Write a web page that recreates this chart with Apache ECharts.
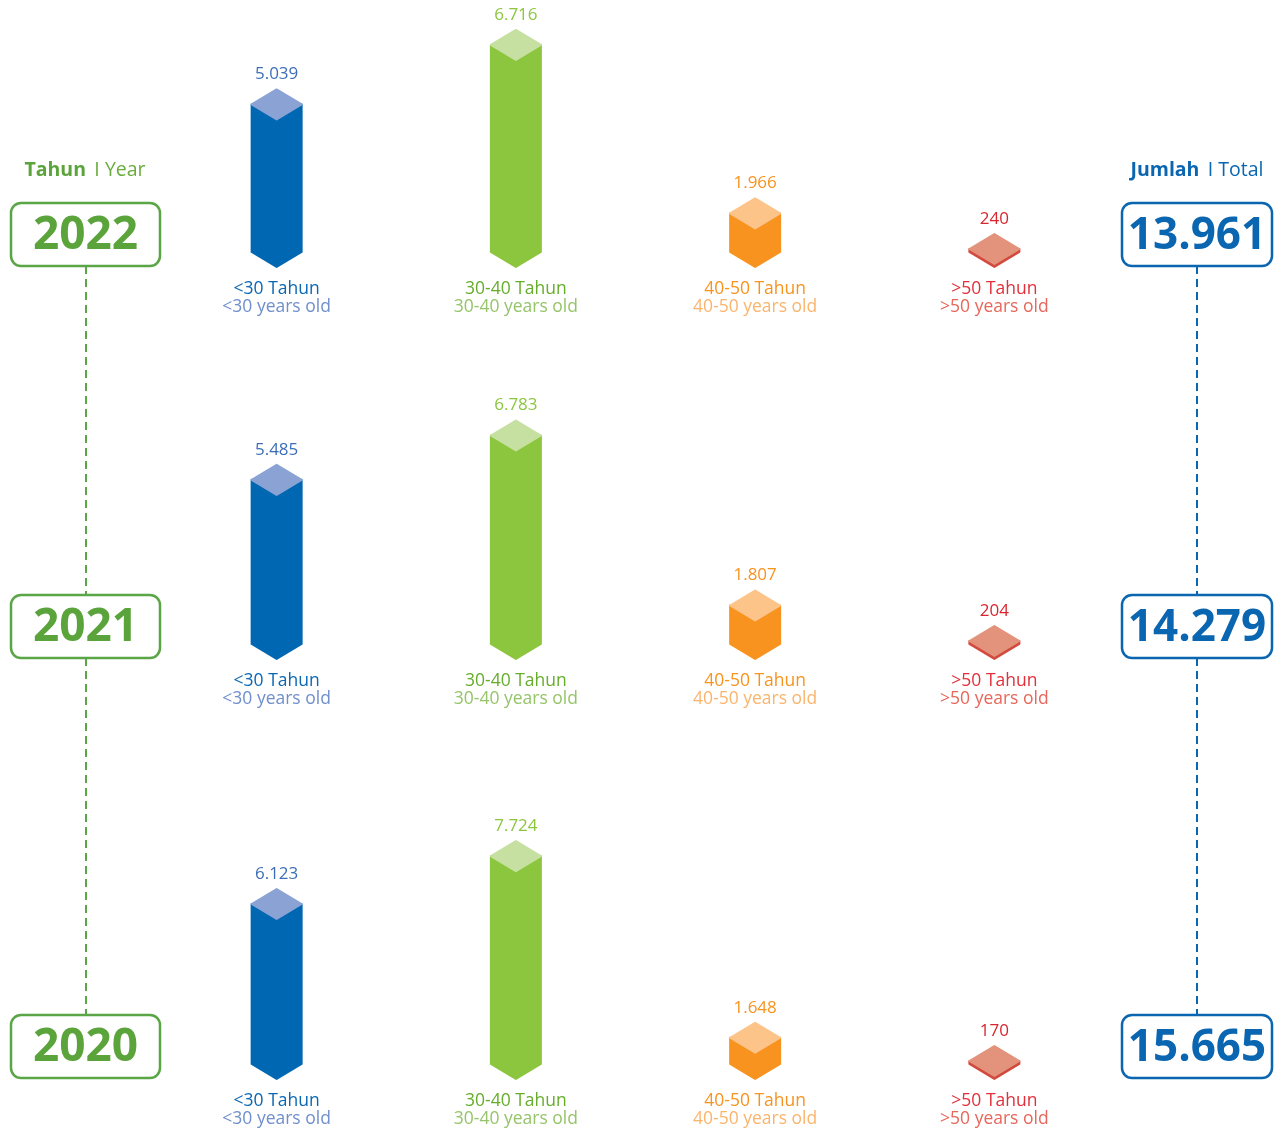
<!DOCTYPE html>
<html>
<head>
<meta charset="utf-8">
<script src="https://cdn.jsdelivr.net/npm/echarts@6/dist/echarts.min.js"></script>
<style>
html,body{margin:0;padding:0;background:#fff;}
#chart{width:1282px;height:1130px;}
</style>
</head>
<body>
<div id="chart"></div>
<script>
// ---- data ----
const categories = ['<30 Tahun', '30-40 Tahun', '40-50 Tahun', '>50 Tahun'];
const categoriesEn = ['<30 years old', '30-40 years old', '40-50 years old', '>50 years old'];
const years = ['2022', '2021', '2020'];
const values2022 = [5039, 6716, 1966, 240];
const values2021 = [5485, 6783, 1807, 204];
const values2020 = [6123, 7724, 1648, 170];
const totals = [13961, 14279, 15665];

const rowValues = [values2022, values2021, values2020];

// ---- styling / layout ----
const bodyColors = ['#0067b2', '#8cc63f', '#f7931e', '#d24a3e'];
const capColors = ['#8aa3d4', '#c5e0a0', '#fdc48a', '#e3927b'];
const valueColors = ['#3d6fb8', '#8cc63f', '#f7931e', '#d7262e'];
const catColors = ['#0b67b2', '#66ad2c', '#f7931e', '#e0303a'];
const enColors = ['#6f8fcd', '#96c46a', '#fbb46c', '#e8665a'];
const rowBase = [267, 659, 1079];
const axisMin = [880, 680, 770];
const axisMax = [7080, 7120, 8130];
const gridH = 220;
const HW = 26, HC = 15;

function fmt(v) { return String(v).replace(/\B(?=(\d{3})+(?!\d))/g, '.'); }

function renderItem(params, api) {
  const idx = api.value(0);
  const v = api.value(1);
  const cs = params.coordSys;
  const y0 = cs.y + cs.height;
  const pt = api.coord([idx, v]);
  const cx = pt[0];
  let body = y0 - pt[1];
  if (body < 3) body = 3;
  const y1 = y0 - body;
  const bodyPts = [[cx - HW, y1 - HC], [cx, y1], [cx + HW, y1 - HC], [cx + HW, y0 - HC], [cx, y0], [cx - HW, y0 - HC]];
  const capPts = [[cx, y1 - 2 * HC], [cx + HW, y1 - HC], [cx, y1], [cx - HW, y1 - HC]];
  const shrink = (pts) => pts.map(p => [p[0] + (p[0] < cx ? 1 : p[0] > cx ? -1 : 0), p[1]]);
  return {
    type: 'group',
    children: [
      { type: 'polygon', shape: { points: shrink(bodyPts) },
        style: { fill: bodyColors[idx], stroke: bodyColors[idx], lineWidth: 2, lineJoin: 'round' } },
      { type: 'polygon', shape: { points: shrink(capPts) },
        style: { fill: capColors[idx], stroke: capColors[idx], lineWidth: 2, lineJoin: 'round' } },
      { type: 'text', x: cx, y: y1 - 2 * HC - 15,
        style: { text: fmt(v), fill: valueColors[idx], font: '17px "Open Sans"', align: 'center', verticalAlign: 'middle' } }
    ]
  };
}

const grids = [], xAxes = [], yAxes = [], series = [];
const rich = {};
categories.forEach((c, i) => {
  rich['t' + i] = { color: catColors[i], fontSize: 17.5, fontFamily: 'Open Sans', lineHeight: 18 };
  rich['e' + i] = { color: enColors[i], fontSize: 17.5, fontFamily: 'Open Sans', lineHeight: 18 };
});

rowValues.forEach((vals, r) => {
  grids.push({ left: 157, right: 168, top: rowBase[r] - gridH, height: gridH });
  xAxes.push({
    type: 'category', gridIndex: r, data: categories,
    axisLine: { show: false }, axisTick: { show: false }, splitLine: { show: false },
    axisLabel: {
      interval: 0, margin: 13,
      formatter: (val, i) => '{t' + i + '|' + val + '}\n{e' + i + '|' + categoriesEn[i] + '}',
      rich: rich
    }
  });
  yAxes.push({ type: 'value', gridIndex: r, min: axisMin[r], max: axisMax[r], show: false });
  series.push({
    type: 'custom', xAxisIndex: r, yAxisIndex: r, clip: false,
    renderItem: renderItem,
    encode: { x: 0, y: 1 },
    data: vals.map((v, i) => [i, v])
  });
});

const graphic = [];
graphic.push({ type: 'text', x: 85, y: 170,
  style: { text: '{b|Tahun} {n| I Year}', align: 'center', verticalAlign: 'middle',
    rich: { b: { fill: '#5ba33b', font: 'bold 19.5px "Open Sans"' }, n: { fill: '#6aad3e', font: '19.5px "Open Sans"' } } } });
graphic.push({ type: 'text', x: 1197, y: 170,
  style: { text: '{b|Jumlah} {n| I Total}', align: 'center', verticalAlign: 'middle',
    rich: { b: { fill: '#0b66b1', font: 'bold 19.5px "Open Sans"' }, n: { fill: '#0b66b1', font: '19.5px "Open Sans"' } } } });

for (let r = 0; r < 3; r++) {
  const bTop = rowBase[r] - 64;
  if (r < 2) {
    graphic.push({ type: 'line', shape: { x1: 86, y1: bTop + 63, x2: 86, y2: rowBase[r + 1] - 64 },
      style: { stroke: '#5aa646', lineWidth: 2, lineDash: [8, 5] } });
    graphic.push({ type: 'line', shape: { x1: 1197, y1: bTop + 63, x2: 1197, y2: rowBase[r + 1] - 64 },
      style: { stroke: '#0b66b1', lineWidth: 2, lineDash: [8, 5] } });
  }
  graphic.push({ type: 'rect', shape: { x: 11, y: bTop, width: 149, height: 63, r: 10 },
    style: { fill: '#fff', stroke: '#5aa646', lineWidth: 2.5 } });
  graphic.push({ type: 'text', x: 85.5, y: bTop + 33,
    style: { text: years[r], fill: '#5ba33b', font: 'bold 46px "Open Sans"', align: 'center', verticalAlign: 'middle' } });
  graphic.push({ type: 'rect', shape: { x: 1122, y: bTop, width: 150, height: 63, r: 10 },
    style: { fill: '#fff', stroke: '#0b66b1', lineWidth: 2.5 } });
  graphic.push({ type: 'text', x: 1197, y: bTop + 33,
    style: { text: fmt(totals[r]), fill: '#0b66b1', font: 'bold 44px "Open Sans"', align: 'center', verticalAlign: 'middle' } });
}

const chart = echarts.init(document.getElementById('chart'), null, { renderer: 'canvas' });
chart.setOption({
  animation: false,
  backgroundColor: '#fff',
  grid: grids, xAxis: xAxes, yAxis: yAxes, series: series,
  graphic: graphic
});
</script>
</body>
</html>
